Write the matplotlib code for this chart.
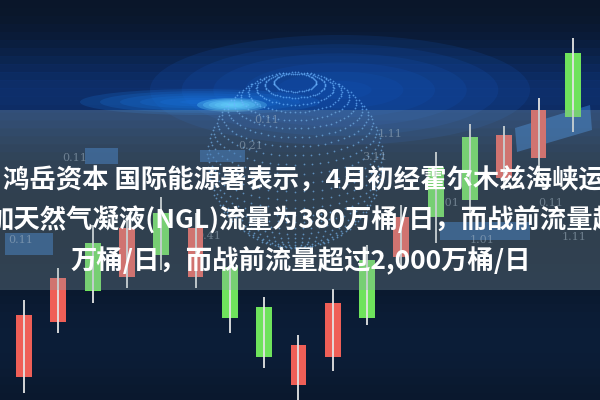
"""Candlestick news thumbnail with caption overlay."""
import numpy as np
import matplotlib
matplotlib.use("Agg")
import matplotlib.pyplot as plt
from matplotlib.patches import Rectangle, Polygon, Ellipse

plt.rcParams['font.family'] = ['Noto Sans CJK SC', 'DejaVu Sans']

# %%
# data (price = height above bottom edge)
opens  = [23, 78, 157, 123, 187, 123, 133, 93, 15, 43, 140, 143, 233, 263, 222, 242, 347]
closes = [85, 122, 109, 172, 145, 172, 82, 43, 55, 97, 82, 183, 183, 200, 265, 290, 283]
highs  = [100, 132, 175, 185, 203, 187, 145, 103, 65, 111, 155, 195, 248, 276, 274, 302, 362]
lows   = [7, 67, 97, 112, 130, 112, 67, 32, 0, 29, 75, 130, 157, 185, 210, 220, 268]
colors = ['red', 'red', 'green', 'red', 'green', 'red', 'green', 'green', 'red',
          'red', 'green', 'red', 'green', 'green', 'red', 'red', 'green']

# faint numbers in the background
num_labels = ['0.11', '0.21', '0.11', '1.11', '3.11', '0.11', '0.41', '1.01', '0.11', '1.11', '1.01']
num_x = [62, 238, 254, 378, 362, 8, 196, 435, 538, 562, 470]
num_y = [158, 146, 120, 134, 157, 240, 236, 203, 203, 237, 240]

caption = [
    "鸿岳资本 国际能源署表示，4月初经霍尔木兹海峡运",
    "加天然气凝液(NGL)流量为380万桶/日，而战前流量超",
    "万桶/日，而战前流量超过2,000万桶/日",
]

RED = '#ef5f57'
GREEN = '#6fe35c'
NAVY = '#0a1628'

# %%
fig = plt.figure(figsize=(6, 4), dpi=100, facecolor=NAVY)
ax = fig.add_axes([0, 0, 1, 1])
ax.set_facecolor(NAVY)
ax.set_xlim(0, 600)
ax.set_ylim(400, 0)
ax.axis('off')

# background: semi-opaque navy layers plus a vertical gradient in strips
ax.add_patch(Rectangle((0, 0), 600, 400, facecolor=NAVY, edgecolor='none', alpha=0.9, zorder=0.9))
strip = 8
for y0 in range(0, 400, strip):
    yc = y0 + strip / 2
    g = np.exp(-((yc - 95) / 50) ** 2)
    g2 = np.exp(-((yc - 340) / 60) ** 2)
    rgb = np.array([10, 22, 40]) + g * np.array([4, 26, 70]) + g2 * np.array([2, 8, 16])
    ax.add_patch(Rectangle((0, y0), 600, strip + 0.5, facecolor=rgb / 255,
                           edgecolor='none', alpha=0.95, zorder=1))


def soft_glow(x, y, w, h, color, alpha, steps=6):
    for k in range(steps):
        f = 1 - k / steps
        ax.add_patch(Ellipse((x, y), w * f, h * f, facecolor=color, edgecolor='none',
                             alpha=alpha, zorder=1.2))


soft_glow(340, 90, 380, 110, '#1558c0', 0.16)
soft_glow(200, 102, 240, 26, '#1a7ae6', 0.2)
soft_glow(232, 105, 70, 14, '#6ad6ff', 0.3)

# dotted globe
cx, cy, r = 295, 160, 88
lat = np.radians(np.arange(-80, 81, 6))
lon = np.radians(np.arange(0, 360, 6))
LON, LAT = np.meshgrid(lon, lat)
X = np.cos(LAT) * np.sin(LON)
Y = np.sin(LAT)
Z = np.cos(LAT) * np.cos(LON)
tilt = np.radians(25)
Y2 = Y * np.cos(tilt) - Z * np.sin(tilt)
Z2 = Y * np.sin(tilt) + Z * np.cos(tilt)
front = Z2 > 0
ax.scatter(cx + r * X[front], cy - r * Y2[front], s=1.6, c='#6ab4ff',
           alpha=0.7, linewidths=0, zorder=1.5)

# translucent blue bars
for x0, y0, w, h in [(85, 148, 33, 16), (5, 233, 48, 22), (440, 222, 90, 18), (200, 150, 45, 12)]:
    ax.add_patch(Rectangle((x0, y0), w, h, color='#2f74c8', alpha=0.55, lw=0, zorder=2))
ax.add_patch(Polygon([(515, 128), (590, 105), (592, 130), (517, 152)],
                     closed=True, color='#2f74c8', alpha=0.6, lw=0, zorder=2))

for t, x, y in zip(num_labels, num_x, num_y):
    ax.text(x, y, t, color='#b9c8d8', alpha=0.5, fontsize=8, family='DejaVu Serif',
            va='center', zorder=2)

# %%
# candlesticks in their own axes
cax = fig.add_axes([0, 0, 1, 1])
cax.patch.set_alpha(0)
cax.axis('off')
n = len(opens)
cax.set_xlim(-0.70, 16.79)
cax.set_ylim(0, 400)
idx = np.arange(n)
bottoms = np.minimum(opens, closes)
heights = np.abs(np.array(closes) - np.array(opens))
col = [RED if c == 'red' else GREEN for c in colors]
cax.vlines(idx, lows, highs, color='#e4e4e4', lw=1.3, zorder=3)
cax.bar(idx, heights, bottom=bottoms, width=0.46, color=col, zorder=2)

# grey caption band and caption text
tax = fig.add_axes([0, 0, 1, 1])
tax.patch.set_alpha(0)
tax.axis('off')
tax.set_xlim(0, 600)
tax.set_ylim(400, 0)
tax.add_patch(Rectangle((0, 110), 600, 180, color='#8aa3ab', alpha=0.3, lw=0))
tax.text(3, 181, caption[0], color='white', fontsize=19, fontweight='bold', ha='left', va='center')
tax.text(-13, 221, caption[1], color='white', fontsize=19, fontweight='bold', ha='left', va='center')
tax.text(301, 261, caption[2], color='white', fontsize=19, fontweight='bold', ha='center', va='center')

fig.savefig("out.png", dpi=100, facecolor=fig.get_facecolor())
